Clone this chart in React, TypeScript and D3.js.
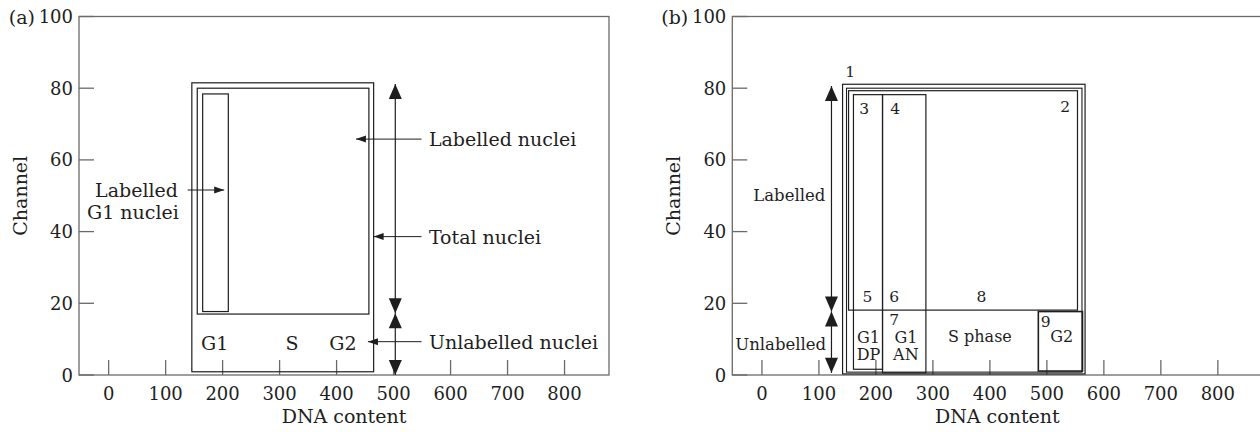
import { scaleLinear } from "d3";

const xTicks = [0, 100, 200, 300, 400, 500, 600, 700, 800];
const yTicks = [0, 20, 40, 60, 80, 100];
const xDomain = [-52, 878];

// panel (a) gates, in data units
const gatesA = [
  { x0: 146, x1: 465, y0: 0.9, y1: 81.5 },
  { x0: 155.5, x1: 456.7, y0: 17, y1: 80 },
  { x0: 165, x1: 210, y0: 17.7, y1: 78.4 },
];
const phaseLabelsA = [
  { text: "G1", x: 186, y: 9 },
  { text: "S", x: 322, y: 9 },
  { text: "G2", x: 411, y: 9 },
];
const calloutsA = [
  { text: "Labelled nuclei", tip: 434, tail: 549, textX: 562, y: 65.8 },
  { text: "Total nuclei", tip: 465, tail: 549, textX: 562, y: 38.6 },
  { text: "Unlabelled nuclei", tip: 455, tail: 549, textX: 562, y: 9.3 },
];
const arrowAX = 503;
const arrowSegmentsA = [
  [81.2, 17.2],
  [17.2, 0],
];

// panel (b) gates
const gatesB = [
  { x0: 141.5, x1: 567, y0: 0.3, y1: 81.1, w: 1.2 },
  { x0: 148.4, x1: 561.6, y0: 0.8, y1: 80, w: 1.1 },
  { x0: 152, x1: 553.7, y0: 18.1, y1: 79.3, w: 1.2 },
  { x0: 160.6, x1: 211.6, y0: 1.6, y1: 78.2, w: 1.2 },
  { x0: 211.6, x1: 287.7, y0: 0.6, y1: 78.2, w: 1.2 },
  { x0: 485, x1: 562.5, y0: 1.1, y1: 17.7, w: 1.6 },
];
const numbersB = [
  { text: "1", x: 155, y: 84.5 },
  { text: "2", x: 532, y: 74.8 },
  { text: "3", x: 179.5, y: 74.2 },
  { text: "4", x: 234, y: 74.2 },
  { text: "5", x: 185, y: 21.7 },
  { text: "6", x: 232, y: 21.7 },
  { text: "7", x: 232, y: 15.4 },
  { text: "8", x: 385, y: 21.7 },
  { text: "9", x: 498, y: 14.8 },
];
const phaseLabelsB = [
  { text: "G1", x: 187, y: 10.5 },
  { text: "DP", x: 187, y: 5.7 },
  { text: "G1", x: 252.6, y: 10.5 },
  { text: "AN", x: 252.6, y: 5.7 },
  { text: "S phase", x: 382.5, y: 10.7 },
  { text: "G2", x: 526, y: 10.6 },
];
const arrowBX = 122;
const arrowSegmentsB = [
  [80.6, 17.7],
  [17.7, 0.6],
];

const FONT = "DejaVu Serif";
const INK = "#1e1e1e";
const FRAME = "#6a6a6a";
const TOP = 16.5;
const BOTTOM = 375;
const WIDTH = 530;

const head = (x: number, y: number, dx: number, dy: number, len: number, w: number) => {
  // tip at (x,y), pointing along (dx,dy)
  const bx = x - dx * len;
  const by = y - dy * len;
  const px = -dy * (w / 2);
  const py = dx * (w / 2);
  return `M${x},${y}L${bx + px},${by + py}L${bx - px},${by - py}Z`;
};

const Panel = ({ left, tag, children }: { left: number; tag: string; children: (x: any, y: any) => any }) => {
  const x = scaleLinear().domain(xDomain).range([left, left + WIDTH]);
  const y = scaleLinear().domain([0, 100]).range([BOTTOM, TOP]);
  return (
    <g fontFamily={FONT} fill={INK}>
      <rect x={left} y={TOP} width={WIDTH} height={BOTTOM - TOP} fill="none" stroke={FRAME} strokeWidth={1.3} />
      {yTicks.map((t) => (
        <g key={t}>
          <line x1={left} x2={left + 15} y1={y(t)} y2={y(t)} stroke={FRAME} strokeWidth={1.3} />
          <text x={left - 6} y={y(t)} textAnchor="end" dominantBaseline="central" fontSize={18}>
            {t}
          </text>
        </g>
      ))}
      {xTicks.map((t) => (
        <g key={t}>
          <line x1={x(t)} x2={x(t)} y1={BOTTOM} y2={BOTTOM - 15} stroke={FRAME} strokeWidth={1.3} />
          <text x={x(t)} y={BOTTOM + 18} textAnchor="middle" dominantBaseline="central" fontSize={18}>
            {t}
          </text>
        </g>
      ))}
      <text x={left - 44} y={TOP} dominantBaseline="central" textAnchor="end" fontSize={19}>
        {tag}
      </text>
      <text x={left + WIDTH / 2} y={BOTTOM + 41} textAnchor="middle" dominantBaseline="central" fontSize={19}>
        DNA content
      </text>
      <text
        transform={`translate(${left - 59},${(TOP + BOTTOM) / 2}) rotate(-90)`}
        textAnchor="middle"
        dominantBaseline="central"
        fontSize={19}
      >
        Channel
      </text>
      {children(x, y)}
    </g>
  );
};

const DoubleArrows = ({ x, y, at, segs }: { x: any; y: any; at: number; segs: number[][] }) => (
  <g>
    {segs.map(([a, b], i) => (
      <g key={i}>
        <line x1={x(at)} x2={x(at)} y1={y(a)} y2={y(b)} stroke={INK} strokeWidth={1.2} />
        <path d={head(x(at), y(a), 0, -1, 15, 13)} fill={INK} />
        <path d={head(x(at), y(b), 0, 1, 15, 13)} fill={INK} />
      </g>
    ))}
  </g>
);

export default function App() {
  return (
    <svg width={1260} height={432} style={{ position: "absolute", left: 0, top: 0, background: "#fff" }}>
      <Panel left={79} tag="(a)">
        {(x: any, y: any) => (
          <g>
            {gatesA.map((g, i) => (
              <rect
                key={i}
                x={x(g.x0)}
                y={y(g.y1)}
                width={x(g.x1) - x(g.x0)}
                height={y(g.y0) - y(g.y1)}
                fill="none"
                stroke={INK}
                strokeWidth={1.2}
              />
            ))}
            {phaseLabelsA.map((p) => (
              <text key={p.text} x={x(p.x)} y={y(p.y)} textAnchor="middle" dominantBaseline="central" fontSize={19}>
                {p.text}
              </text>
            ))}
            <DoubleArrows x={x} y={y} at={arrowAX} segs={arrowSegmentsA} />
            {calloutsA.map((c) => (
              <g key={c.text}>
                <line x1={x(c.tail)} x2={x(c.tip)} y1={y(c.y)} y2={y(c.y)} stroke={INK} strokeWidth={1} />
                <path d={head(x(c.tip), y(c.y), -1, 0, 10, 7)} fill={INK} />
                <text x={x(c.textX)} y={y(c.y)} dominantBaseline="central" fontSize={19}>
                  {c.text}
                </text>
              </g>
            ))}
            <line x1={x(138.6)} x2={x(202.8)} y1={y(51.6)} y2={y(51.6)} stroke={INK} strokeWidth={1} />
            <path d={head(x(202.8), y(51.6), 1, 0, 10, 7)} fill={INK} />
            <text x={x(49)} y={y(51.6)} textAnchor="middle" dominantBaseline="central" fontSize={19}>
              Labelled
            </text>
            <text x={x(42.6)} y={y(45.5)} textAnchor="middle" dominantBaseline="central" fontSize={19}>
              G1 nuclei
            </text>
          </g>
        )}
      </Panel>
      <Panel left={732.3} tag="(b)">
        {(x: any, y: any) => (
          <g>
            {gatesB.map((g, i) => (
              <rect
                key={i}
                x={x(g.x0)}
                y={y(g.y1)}
                width={x(g.x1) - x(g.x0)}
                height={y(g.y0) - y(g.y1)}
                fill="none"
                stroke={INK}
                strokeWidth={g.w}
              />
            ))}
            {numbersB.map((n) => (
              <text key={n.text} x={x(n.x)} y={y(n.y)} textAnchor="middle" dominantBaseline="central" fontSize={15.5}>
                {n.text}
              </text>
            ))}
            {phaseLabelsB.map((p, i) => (
              <text key={i} x={x(p.x)} y={y(p.y)} textAnchor="middle" dominantBaseline="central" fontSize={16}>
                {p.text}
              </text>
            ))}
            <DoubleArrows x={x} y={y} at={arrowBX} segs={arrowSegmentsB} />
            <text x={x(48)} y={y(50)} textAnchor="middle" dominantBaseline="central" fontSize={16.5}>
              Labelled
            </text>
            <text x={x(33)} y={y(8.6)} textAnchor="middle" dominantBaseline="central" fontSize={16.5}>
              Unlabelled
            </text>
          </g>
        )}
      </Panel>
    </svg>
  );
}
